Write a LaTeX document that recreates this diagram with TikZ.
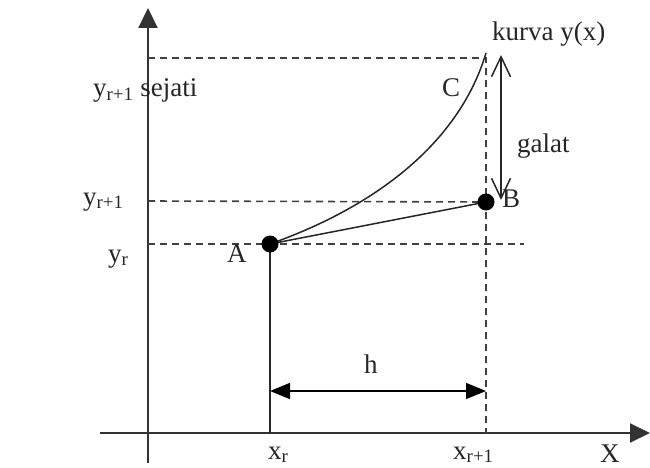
\documentclass[tikz,border=0pt]{standalone}
\usepackage{fontspec}
\setmainfont{Liberation Serif}
\usetikzlibrary{arrows.meta}

\begin{document}
\begin{tikzpicture}[x=1pt, y=-1pt,
  axis/.style={line width=2pt, draw=black!80, -{Triangle[length=20pt,width=19pt]}},
  guide/.style={line width=1.6pt, draw=black!75, dash pattern=on 7pt off 5pt},
  edge/.style={line width=1.5pt, draw=black!85},
  barb/.style={line width=1.5pt, draw=black!85, {Straight Barb[length=20pt,width=19pt]}-{Straight Barb[length=20pt,width=19pt]}},
  span/.style={line width=1.5pt, draw=black, {Triangle[length=20pt,width=16pt]}-{Triangle[length=20pt,width=16pt]}},
  dot/.style={circle, fill=black, inner sep=0pt, minimum size=17pt},
  lbl/.style={font=\fontsize{27}{30}\selectfont, text=black!85, inner sep=0pt, anchor=base west}
]
\useasboundingbox (0,0) rectangle (650,468);

% ---- axes ----
\coordinate (xl) at (100,433);
\coordinate (xr) at (650,433);
\coordinate (yb) at (148,463);
\coordinate (yt) at (148,8);
\draw[axis] (xl) -- (xr);
\draw[axis] (yb) -- (yt);

% ---- points ----
\coordinate (A)  at (270,244);
\coordinate (B)  at (486,202);
\coordinate (C)  at (486,53);
\coordinate (Ax) at (270,433);
\coordinate (Bx) at (486,433);
\coordinate (ys) at (148,58);
\coordinate (st) at (486,58);
\coordinate (y1) at (148,201);
\coordinate (y0) at (148,244);
\coordinate (ye) at (524,244);

% ---- dashed guides ----
\draw[guide] (ys) -- (st) -- (Bx);
\draw[guide] (y1) -- (B);
\draw[guide] (y0) -- (ye);

% ---- curve and chord ----
\draw[edge] (A) -- (Ax);
\draw[edge] (A) -- (B);
\draw[edge] (A) .. controls (380,205) and (460,140) .. (C);

% ---- error and step ----
\coordinate (gt) at (501,55);
\coordinate (gb) at (501,200);
\draw[barb] (gt) -- (gb);
\coordinate (hl) at (270,391);
\coordinate (hr) at (486,391);
\draw[span] (hl) -- (hr);

\node[dot] (pA) at (A) {};
\node[dot] (pB) at (B) {};

% ---- labels ----
\node[lbl] (lsej) at (93,97)   {y\textsubscript{r+1} sejati};
\node[lbl] (ly1)  at (83,205)  {y\textsubscript{r+1}};
\node[lbl] (ly0)  at (108,262) {y\textsubscript{r}};
\node[lbl] (lA)   at (227,262) {A};
\node[lbl] (lB)   at (502,207) {B};
\node[lbl] (lC)   at (442,97)  {C};
\node[lbl] (lkur) at (492,41)  {kurva y(x)};
\node[lbl] (lgal) at (517,153) {galat};
\node[lbl] (lh)   at (364,373) {h};
\node[lbl] (lx0)  at (268,459) {x\textsubscript{r}};
\node[lbl] (lx1)  at (453,459) {x\textsubscript{r+1}};
\node[lbl] (lX)   at (600,462) {X};

\end{tikzpicture}
\end{document}
